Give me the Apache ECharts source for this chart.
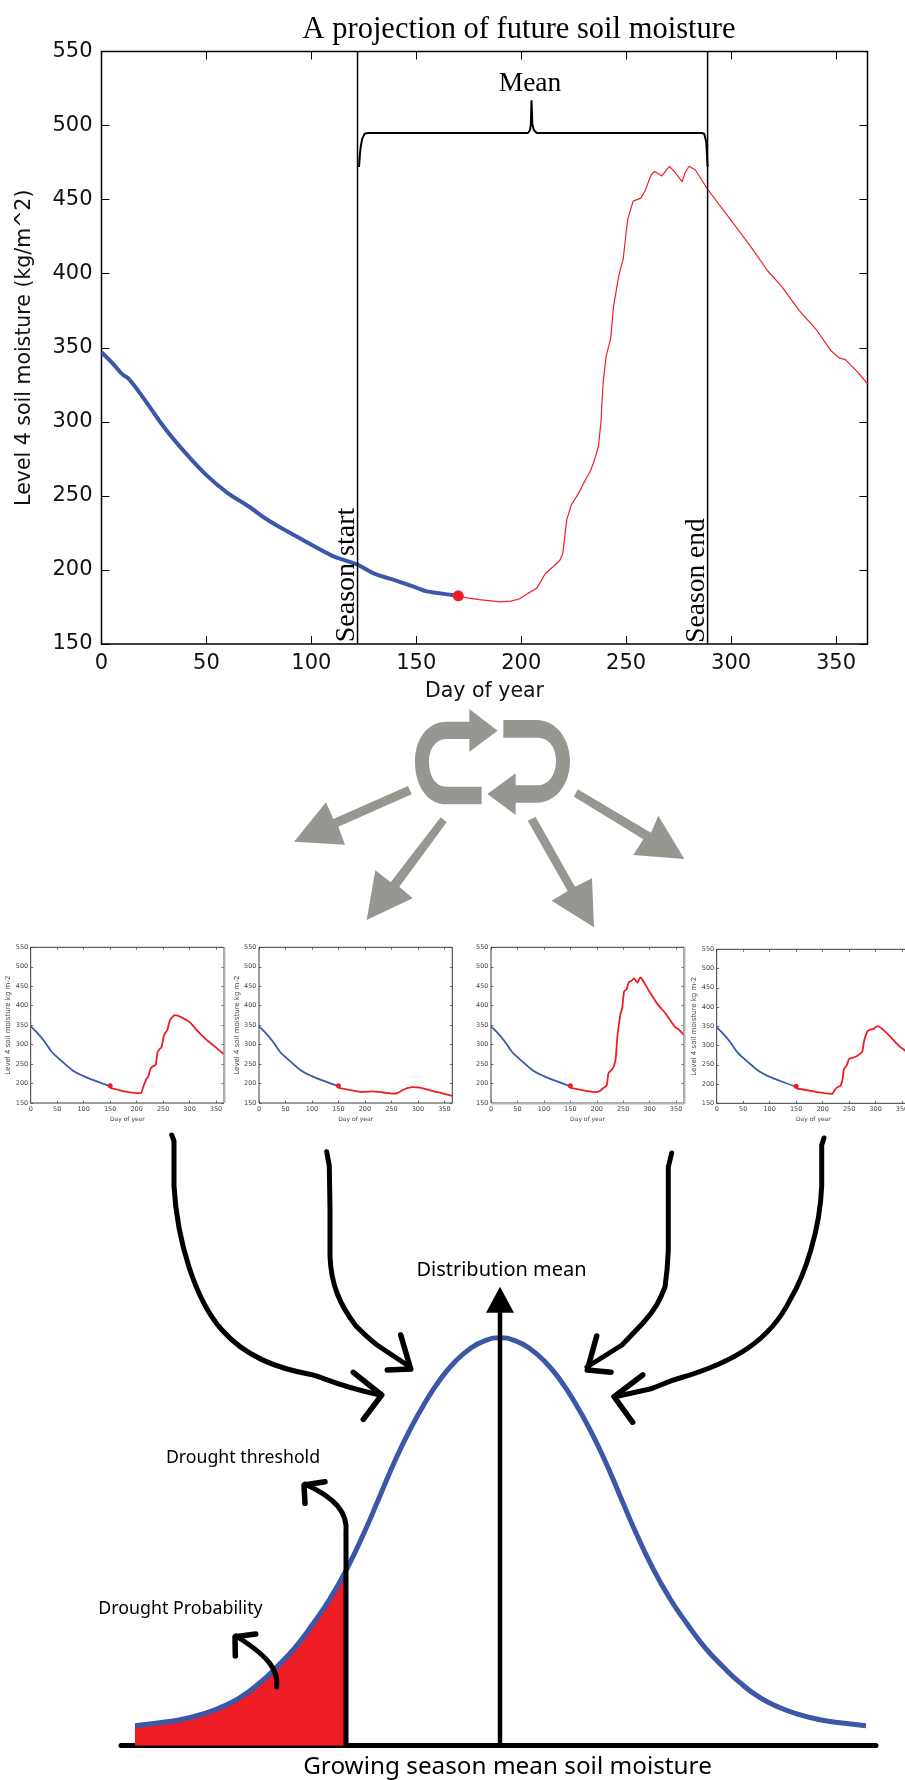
<!DOCTYPE html>
<html><head><meta charset="utf-8">
<style>html,body{margin:0;padding:0;background:#fff;overflow:hidden}#c{width:905px;height:1780px}</style>
<script src="https://cdn.jsdelivr.net/npm/echarts@6/dist/echarts.min.js"></script>
</head><body><div id="c"></div>
<script>
const xTicks = [0,50,100,150,200,250,300,350];
const mainBlue = [[0,347],[5,340],[10,332],[13,329],[20,316],[30,296],[40,279],[50,264],[60,252],[70,243],[80,233],[90,225],[100,217],[110,209.5],[115,207],[122,203.5],[130,197.5],[140,193],[150,188],[155,185.5],[160,184.5],[170,182.5]];
const mainRed = [[170,182.5],[175,181],[180,180],[190,178.5],[195,179],[199,180.4],[203,184],[207.4,187.7],[211.5,197.6],[215,202],[218.4,206.5],[219.8,211],[221.7,234],[223.9,244],[227,251],[230.7,261],[233,267],[235,274.5],[236.8,283.5],[238,300],[239,326],[240.4,344],[242.6,356],[244,378],[246.4,398],[248.6,410],[250,428],[250.8,437],[253.3,449],[257,451],[259,456],[262,467],[263.7,469],[267,466],[270.6,472.5],[273,469],[276.7,462],[278,468],[280,472.5],[283,470],[288.8,457],[300,436],[309,419],[317.4,402],[324,391.6],[332.5,375],[340.7,362],[347.6,348],[351.7,343],[354.5,342],[360,334],[365,325.7]];
const seasonStartLine = [[122,150],[122,550]];
const seasonEndLine = [[288.8,150],[288.8,550]];
const brace = [[122.7,472],[123.1,480],[123.5,485.5],[124.2,491],[125.4,494.5],[127,495],[203.2,495],[204.2,497],[204.6,501],[204.9,517],[205.3,501],[206,497],[207.4,495],[286,495],[287.2,494.5],[288.2,488.5],[288.8,472]];
const onsetPoint = [[170,182.5]];

const smallBlue = [[0,347],[12,331],[25,310],[40,281],[50,268],[65,250],[80,233],[100,219],[120,208],[150,193]];
const smallMark = [[150,194]];
const smallRed1 = [[150,189],[165,184],[180,179],[195,176],[208,175.5],[212.7,192],[219,213],[222,217.7],[226.5,239],[232,245],[236,247.6],[239.8,282],[243,288],[247,293],[252,325],[258,337.6],[263,363],[272.5,376],[285,370],[300.8,357],[313,337.6],[329,316],[345,298],[365,275]];
const smallRed2 = [[150,189],[170,184],[195,178],[215,180],[235,177],[255,174],[262,176],[270,182],[280,188],[290,191],[300,190],[320,184],[340,177],[365,168]];
const smallRed3 = [[150,189],[170,184],[185,180],[198,178],[205,180],[212,188],[219,196],[222,226],[228,235],[233,247],[236,267],[239,320],[245,380],[248,392],[251.6,436],[256.6,442],[259,455],[261.7,462],[265,463],[270.5,470],[277,459],[282,472],[285,470],[300,435],[315,404],[330,380],[348,345],[354,340],[365,325]];
const smallRed4 = [[150,189],[175,183],[200,177],[218,174],[222,183],[228,192],[234,196],[238,215],[240,237],[246,250],[250,265],[258,269],[265,273],[275,285],[278,310],[285,338],[292,342],[297,344],[302,350],[305,350],[315,340],[330,320],[345,298],[355.6,287],[365,270]];
const smallYName = 'Level 4 soil moisture kg m-2';

const bellCurve = [[14,20],[39,23],[59,26],[79,31],[99,38],[119,48],[139,63],[156,79],[174,98],[192,122],[209,147],[226,177],[244,215],[259,250],[274,285],[289,316],[304,343],[319,366],[334,384],[349,397],[364,405],[379,408],[394,405],[409,397],[424,384],[439,366],[454,343],[469,316],[484,285],[499,250],[514,215],[532,177],[549,147],[566,122],[584,98],[602,79],[619,63],[639,48],[659,38],[679,31],[699,26],[719,23],[745,20]];
const droughtArea = bellCurve.filter(p => p[0] <= 226);
const thresholdLine = [[225,0],[225,212]];
const meanLine = [[379,0],[379,436]];
const meanHead = [[379,446]];

const BLUE = '#3a57a8', RED = '#ee1d25', GREY = '#979690';
const MAIN_FONT = 'DejaVu Sans', SERIF = 'Liberation Serif', SANS = 'Noto Sans';

const chart = echarts.init(document.getElementById('c'), null, {renderer:'canvas'});
const grids=[], xAxes=[], yAxes=[], series=[];

function addPlot(box,o){
  const i=grids.length;
  grids.push(Object.assign({show:true,outerBoundsMode:'none',backgroundColor:'transparent',borderColor:o.border,borderWidth:o.bw},box));
  const tick={show:true,inside:true,length:o.tick,lineStyle:{color:o.border,width:o.tw}};
  const base=xAxes.length;
  xAxes.push({gridIndex:i,type:'value',min:0,max:365,position:'bottom',
    splitLine:{show:false},axisLine:{show:false,onZero:false},
    axisTick:Object.assign({customValues:xTicks},tick),
    axisLabel:{customValues:xTicks,fontFamily:MAIN_FONT,fontSize:o.fs,color:o.text,margin:o.lm},
    name:'Day of year',nameLocation:'middle',nameGap:o.xg,nameTextStyle:{fontFamily:MAIN_FONT,fontSize:o.ns,color:o.text}});
  xAxes.push({gridIndex:i,type:'value',min:0,max:365,position:'top',
    splitLine:{show:false},axisLine:{show:false,onZero:false},
    axisTick:Object.assign({customValues:xTicks},tick),axisLabel:{show:false}});
  yAxes.push({gridIndex:i,type:'value',min:150,max:550,interval:50,position:'left',
    splitLine:{show:false},axisLine:{show:false,onZero:false},axisTick:tick,
    axisLabel:{fontFamily:MAIN_FONT,fontSize:o.fs,color:o.text,margin:o.lm},
    name:o.yName||'',nameLocation:'middle',nameGap:o.yg,nameRotate:90,nameTextStyle:{fontFamily:MAIN_FONT,fontSize:o.ys||o.ns,color:o.text}});
  yAxes.push({gridIndex:i,type:'value',min:150,max:550,interval:50,position:'right',
    splitLine:{show:false},axisLine:{show:false,onZero:false},axisTick:tick,axisLabel:{show:false}});
  return base;
}
function line(ax,data,color,width,extra){
  series.push(Object.assign({type:'line',xAxisIndex:ax,yAxisIndex:ax,data,showSymbol:false,symbol:'none',
    lineStyle:{color,width},silent:true,animation:false,clip:true},extra||{}));
}
function dot(ax,data,color,size,sym){
  series.push({type:'scatter',xAxisIndex:ax,yAxisIndex:ax,data,symbol:sym||'circle',symbolSize:size,
    itemStyle:{color,opacity:1},silent:true,animation:false,z:5});
}

const mainAx=addPlot({left:101.5,top:51.5,width:766,height:592.5},{border:'#000',bw:1.5,tick:8,tw:1,fs:21,text:'#111',lm:9,ns:20.5,xg:37,yName:'Level 4 soil moisture (kg/m^2)',yg:66,ys:20.5});
line(mainAx,mainRed,'#f0202a',1.2);
line(mainAx,mainBlue,BLUE,4,{smooth:0.4});
line(mainAx,seasonStartLine,'#000',1.5);
line(mainAx,seasonEndLine,'#000',1.5);
line(mainAx,brace,'#000',2);
dot(mainAx,onsetPoint,RED,11);

const smallOpts={border:'#3a3a3a',bw:1,tick:2.5,tw:0.7,fs:6.5,text:'#444',lm:2.5,ns:6,ys:7,xg:13,yg:14};
[
 [{left:30.7,top:947.3,width:193.3,height:155.7},smallYName,smallRed1],
 [{left:259,top:947.3,width:193.3,height:155.7},smallYName,smallRed2],
 [{left:491,top:947.3,width:193,height:155.7},'',smallRed3],
 [{left:716.7,top:949.3,width:193.3,height:154},smallYName,smallRed4]
].forEach(s=>{
  const ax=addPlot(s[0],Object.assign({},smallOpts,{yName:s[1]}));
  line(ax,s[2],'#f01c24',1.8,{smooth:0.2});
  line(ax,smallBlue,BLUE,1.8,{smooth:0.4});
  dot(ax,smallMark,RED,5);
});

const bellG=grids.length, bellAx=xAxes.length;
grids.push({left:121,top:1245.7,width:755,height:500,outerBoundsMode:'none'});
xAxes.push({gridIndex:bellG,type:'value',min:0,max:755,position:'bottom',splitLine:{show:false},axisTick:{show:false},axisLabel:{show:false},axisLine:{show:true,onZero:false,lineStyle:{color:'#000',width:5}}});
yAxes.push({gridIndex:bellG,type:'value',min:0,max:500,show:false,splitLine:{show:false}});
line(bellAx,droughtArea,RED,0,{smooth:0.5,areaStyle:{color:RED,opacity:1},lineStyle:{width:0}});
line(bellAx,bellCurve,BLUE,5,{smooth:0.5});
line(bellAx,thresholdLine,'#000',5);
line(bellAx,meanLine,'#000',4.5);
dot(bellAx,meanHead,'#000',[28,26],'triangle');

// decorative shapes typed as path data: grey loop (3x crop coordinates) and hand-drawn arrows
const greyPaths=[
 'M598,57 L683,122 L598,185 L598,147 L530,147 C495,147 477,180 477,215 C477,255 495,290 530,290 L635,290 L635,343 L530,343 C470,343 435,285 435,215 C435,150 470,95 530,95 L598,95 Z',
 'M700,90 L800,90 C860,90 900,150 900,212 C900,280 860,338 800,338 L737,338 L737,375 L652,312 L737,250 L737,286 L800,286 C840,286 858,250 858,212 C858,175 840,143 800,143 L700,143 Z'
];
const inkPaths=[
 'M171.7,1135 L174,1141 L174,1186 C177,1240 195,1300 222,1330 C245,1356 275,1368 313,1375 C325,1378 335,1385 380,1395',
 'M326.7,1151.7 L329.3,1166 L330,1210 L330,1256 C331,1285 340,1305 356,1326 C362,1332 368,1338 377,1345 L410,1367',
 'M671.7,1153 L668.3,1167 L668.3,1250 C667.5,1270 666,1280 665,1287 C660,1300 655,1310 643,1323 L622,1345 L587,1367',
 'M824,1138 L821.7,1145 L821.7,1186 C820,1230 805,1275 790,1300 C770,1340 735,1362 680,1378 C665,1382 660,1386 650,1389 L615,1396.7',
 'M346,1533 C348,1512 335,1498 305,1484',
 'M276.7,1687 C279,1670 268,1656 236,1636'
];
series.push({type:'custom',coordinateSystem:'none',silent:true,animation:false,z:40,data:greyPaths.map((_,i)=>[i]),
  renderItem:(p,api)=>({type:'path',x:270,y:690,scaleX:1/3,scaleY:1/3,
    shape:{pathData:greyPaths[api.value(0)]},style:{fill:GREY,stroke:null}})});
series.push({type:'custom',coordinateSystem:'none',silent:true,animation:false,z:50,data:inkPaths.map((_,i)=>[i]),
  renderItem:(p,api)=>({type:'path',
    shape:{pathData:inkPaths[api.value(0)]},style:{fill:'none',stroke:'#000',lineWidth:5,lineCap:'round',lineJoin:'round'}})});

function head(points,w){return {type:'polyline',silent:true,z:50,shape:{points},style:{stroke:'#000',fill:null,lineWidth:w||5.5,lineCap:'round',lineJoin:'round'}};}
function text(t,x,y,size,font,rot){return {type:'text',silent:true,z:60,x,y,rotation:rot||0,style:{text:t,x:0,y:0,align:'center',verticalAlign:'middle',fontFamily:font,fontSize:size,fill:'#000'}};}
function grey(points){return {type:'polygon',silent:true,z:40,x:270,y:690,scaleX:1/3,scaleY:1/3,shape:{points},style:{fill:GREY,stroke:null}};}
function rule(x1,y1,x2,y2){return {type:'line',silent:true,z:30,shape:{x1,y1,x2,y2},style:{stroke:'#b4b4b4',lineWidth:2}};}

const graphic=[
 grey([[414,288],[425,313],[205,410],[225,464],[72,455],[168,337],[190,387]]),
 grey([[512,382],[530,397],[388,590],[428,625],[290,690],[316,541],[362,577]]),
 grey([[773,392],[797,381],[915,590],[966,565],[972,712],[845,632],[893,603]]),
 grey([[923,298],[912,320],[1120,448],[1090,495],[1243,507],[1165,377],[1143,428]]),

 rule(224.5,947,224.5,1103),
 rule(684.5,947,684.5,1104),
 rule(491,1103.5,684.5,1103.5),

 head([[353.3,1372.3],[381.7,1395],[363.3,1419.3]]),
 head([[400.7,1335],[410.7,1369],[387.3,1370]]),
 head([[596.7,1336],[587.3,1370],[611,1372.3]]),
 head([[642.7,1375],[614,1396.7],[632.7,1422.3]]),
 head([[325,1481.7],[304,1485],[305,1503.3]]),
 head([[255.7,1634],[235,1636.7],[235.3,1656]]),

 text('Mean',530,84,27.5,SERIF),
 text('Season start',347,575,28,SERIF,Math.PI/2),
 text('Season end',697,580.5,27.5,SERIF,Math.PI/2),
 text('Distribution mean',501.5,1270.7,20,SANS),
 text('Drought threshold',243,1458,17.7,SANS),
 text('Drought Probability',180.5,1609,17.8,SANS),
 text('Growing season mean soil moisture',507.5,1767,24.3,SANS)
];

chart.setOption({
  animation:false,
  backgroundColor:'#fff',
  title:{text:'A projection of future soil moisture',left:514,textAlign:'center',top:9,textStyle:{fontFamily:SERIF,fontSize:30.5,fontWeight:'normal',color:'#000'}},
  tooltip:{show:false},legend:{show:false},
  grid:grids,xAxis:xAxes,yAxis:yAxes,series,graphic
});
</script>
</body></html>
